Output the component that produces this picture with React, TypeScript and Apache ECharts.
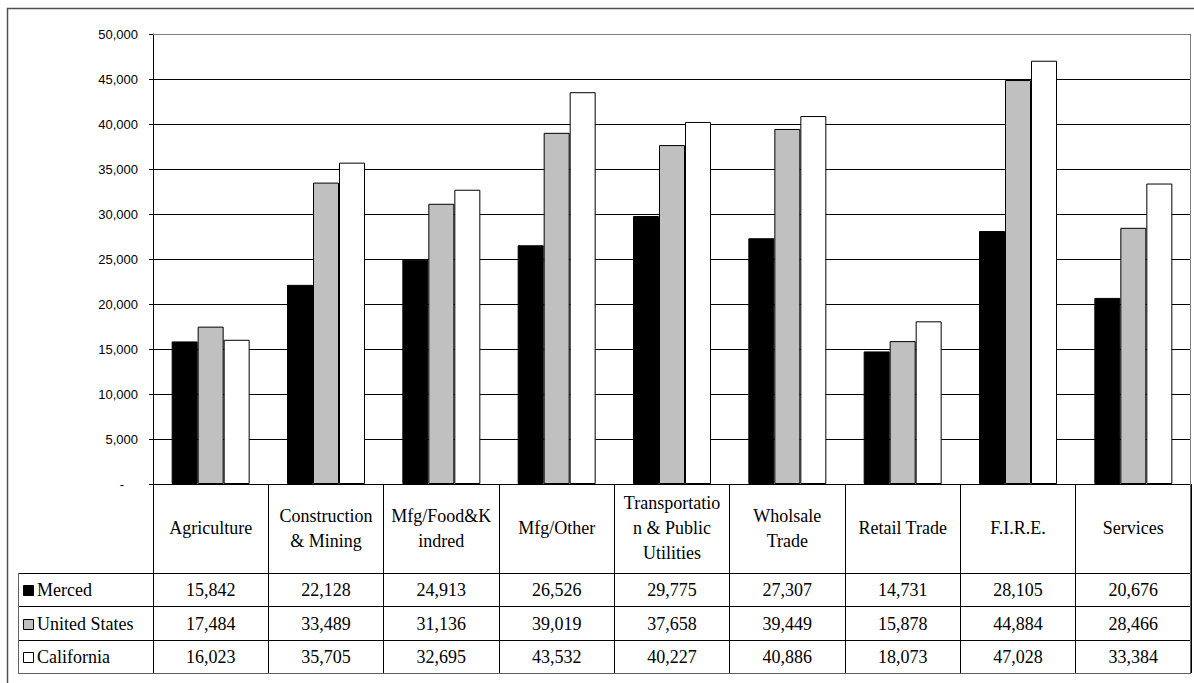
import React, { useEffect, useRef } from "react";
import * as echarts from "echarts";

const categories = [
  "Agriculture",
  "Construction\n& Mining",
  "Mfg/Food&K\nindred",
  "Mfg/Other",
  "Transportatio\nn & Public\nUtilities",
  "Wholsale\nTrade",
  "Retail Trade",
  "F.I.R.E.",
  "Services",
];
const seriesNames = ["Merced", "United States", "California"];
const merced = [15842, 22128, 24913, 26526, 29775, 27307, 14731, 28105, 20676];
const unitedStates = [17484, 33489, 31136, 39019, 37658, 39449, 15878, 44884, 28466];
const california = [16023, 35705, 32695, 43532, 40227, 40886, 18073, 47028, 33384];
const seriesFills = ["#000000", "#C0C0C0", "#FFFFFF"];
const yMin = 0;
const yMax = 50000;
const yInterval = 5000;

const SERIF = "Times New Roman, Liberation Serif, DejaVu Serif, serif";
const SANS = "Arial, Liberation Sans, sans-serif";
const TABLE_FONT = 18;

const fmt = (v: number) => v.toLocaleString("en-US");

export default function App() {
  const ref = useRef<HTMLDivElement>(null);
  useEffect(() => {
    document.body.style.margin = "0";
    const chart = echarts.init(ref.current!, null, { renderer: "svg" });
    const allData = [merced, unitedStates, california];
    const option: any = {
      animation: false,
      backgroundColor: "#ffffff",
      textStyle: { fontFamily: SERIF },
      grid: { left: 153, top: 34, right: 3, bottom: 199, containLabel: false },
      xAxis: {
        type: "category",
        data: categories,
        boundaryGap: true,
        axisLine: { show: true, lineStyle: { color: "#000", width: 1 } },
        axisTick: { show: true, alignWithLabel: false, interval: 0, length: 189, lineStyle: { color: "#000", width: 1 } },
        axisLabel: {
          interval: 0,
          margin: 44,
          verticalAlign: "middle",
          align: "center",
          fontFamily: SERIF,
          fontSize: TABLE_FONT,
          lineHeight: 25,
          color: "#000",
        },
        splitLine: { show: false },
      },
      yAxis: {
        type: "value",
        min: yMin,
        max: yMax,
        interval: yInterval,
        axisLine: { show: true, lineStyle: { color: "#000", width: 1 } },
        axisTick: { show: true, length: 4, lineStyle: { color: "#000" } },
        splitLine: { show: true, lineStyle: { color: "#000", width: 1 } },
        axisLabel: {
          margin: 15,
          fontFamily: SANS,
          fontSize: 13,
          color: "#000",
          formatter: (v: number) => (v === 0 ? "{d|-}" : fmt(v)),
          rich: { d: { fontFamily: SANS, fontSize: 13, color: "#000", padding: [0, 14, 0, 0] } },
        },
      },
      series: seriesNames.map((name, i) => ({
        name,
        type: "bar",
        data: allData[i],
        barWidth: 26,
        barGap: "0%",
        itemStyle: { color: seriesFills[i], borderColor: "#000", borderWidth: 1 },
      })),
    };
    chart.setOption(option);

    const y0 = chart.convertToPixel({ yAxisIndex: 0 }, 0) as number;
    const yTop = chart.convertToPixel({ yAxisIndex: 0 }, yMax) as number;
    const xLeft = 153;
    const xRight = 1191;
    const headerH = 89;
    const rowH = 33.3;
    const rowTops = [0, 1, 2, 3].map((k) => Math.round(y0 + headerH + k * rowH));
    const elements: any[] = [];
    elements.push({
      type: "rect",
      shape: { x: 7.5, y: 8.5, width: 1300, height: 800 },
      style: { fill: "none", stroke: "#505050", lineWidth: 1.5 },
      z: 100,
    });
    elements.push({
      type: "polyline",
      shape: { points: [[xLeft, yTop + 0.5], [xRight - 0.5, yTop + 0.5], [xRight - 0.5, y0]] },
      style: { fill: "none", stroke: "#808080", lineWidth: 1 },
      z: 100,
    });
    rowTops.forEach((ry, k) => {
      elements.push({
        type: "line",
        shape: { x1: 18, y1: ry + 0.5, x2: xRight, y2: ry + 0.5 },
        style: { stroke: k === 3 ? "#606060" : "#000", lineWidth: 1 },
        z: 100,
      });
    });
    elements.push({
      type: "line",
      shape: { x1: 18.5, y1: rowTops[0], x2: 18.5, y2: rowTops[3] + 1 },
      style: { stroke: "#606060", lineWidth: 1 },
      z: 100,
    });
    elements.push({
      type: "line",
      shape: { x1: xRight - 0.5, y1: y0, x2: xRight - 0.5, y2: rowTops[3] + 1 },
      style: { stroke: "#606060", lineWidth: 1 },
      z: 101,
    });
    seriesNames.forEach((name, k) => {
      const cy = (rowTops[k] + rowTops[k + 1]) / 2 + 0.5;
      elements.push({
        type: "rect",
        shape: { x: 23.5, y: Math.round(cy - 5) + 0.5, width: 10, height: 10 },
        style: { fill: seriesFills[k], stroke: "#000", lineWidth: 1 },
        z: 100,
      });
      elements.push({
        type: "text",
        x: 37,
        y: cy,
        style: { text: name, fontFamily: SERIF, fontSize: TABLE_FONT, fill: "#000", verticalAlign: "middle", align: "left" },
        z: 100,
      });
      allData[k].forEach((v, i) => {
        const cx = chart.convertToPixel({ xAxisIndex: 0 }, i) as number;
        elements.push({
          type: "text",
          x: cx,
          y: cy,
          style: { text: fmt(v), fontFamily: SERIF, fontSize: TABLE_FONT, fill: "#000", verticalAlign: "middle", align: "center" },
          z: 100,
        });
      });
    });
    chart.setOption({ graphic: { elements } });
    return () => chart.dispose();
  }, []);
  return (
    <div
      ref={ref}
      style={{ position: "absolute", left: 0, top: 0, width: 1194, height: 683, background: "#fff" }}
    />
  );
}
